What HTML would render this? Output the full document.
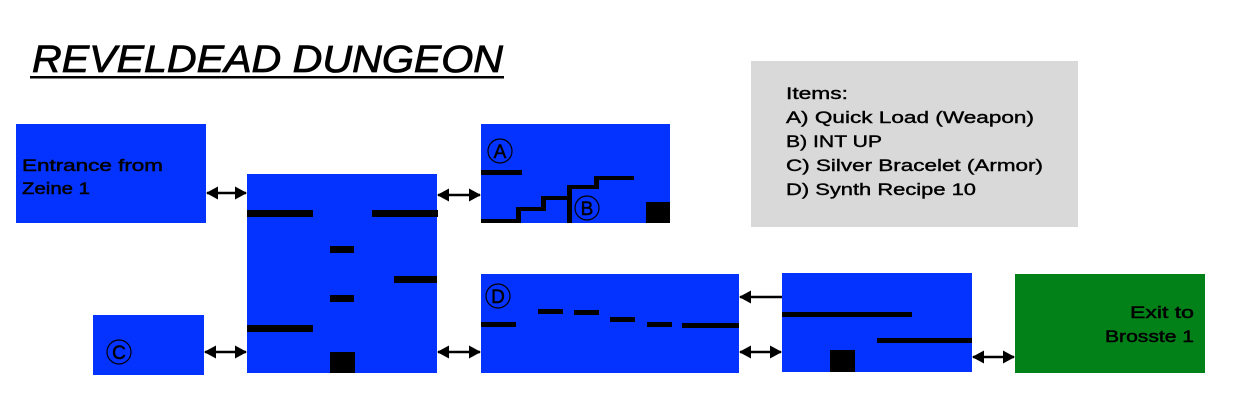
<!DOCTYPE html>
<html><head><meta charset="utf-8"><style>
html,body{margin:0;padding:0;background:#fff;}
svg{display:block;}
text{font-family:"Liberation Sans",sans-serif;}
</style></head><body>
<svg width="1241" height="419" viewBox="0 0 1241 419" xmlns="http://www.w3.org/2000/svg">
<defs>
<marker id="ah" markerWidth="12" markerHeight="13" refX="11" refY="6.5" orient="auto-start-reverse" markerUnits="userSpaceOnUse">
<path d="M0,0 L12,6.5 L0,13 z" fill="#000"/>
</marker>
</defs>
<!-- title -->
<text x="32" y="72" font-size="38" font-style="italic" stroke="#000" stroke-width="0.8" textLength="471" lengthAdjust="spacingAndGlyphs">REVELDEAD DUNGEON</text>
<rect x="30" y="76" width="474" height="2.5" fill="#000"/>

<!-- items box -->
<rect x="751" y="61" width="327" height="166" fill="#d9d9d9"/>
<g font-size="17" fill="#000" stroke="#000" stroke-width="0.4">
<text x="786" y="99" textLength="62" lengthAdjust="spacingAndGlyphs">Items:</text>
<text x="786" y="123" textLength="248" lengthAdjust="spacingAndGlyphs">A) Quick Load (Weapon)</text>
<text x="786" y="147" textLength="96" lengthAdjust="spacingAndGlyphs">B) INT UP</text>
<text x="786" y="171" textLength="257" lengthAdjust="spacingAndGlyphs">C) Silver Bracelet (Armor)</text>
<text x="786" y="195" textLength="190" lengthAdjust="spacingAndGlyphs">D) Synth Recipe 10</text>
</g>

<!-- rooms -->
<rect x="16" y="124" width="190" height="99" fill="#0433ff"/>
<g font-size="17" stroke="#000" stroke-width="0.5">
<text x="22" y="171" textLength="141" lengthAdjust="spacingAndGlyphs">Entrance from</text>
<text x="22" y="194" textLength="68" lengthAdjust="spacingAndGlyphs">Zeine 1</text>
</g>

<rect x="93" y="315" width="111" height="60" fill="#0433ff"/>
<circle cx="119" cy="352" r="12" fill="none" stroke="#000" stroke-width="1.2"/>
<text x="119" y="359" font-size="19" text-anchor="middle" stroke="#000" stroke-width="0.5">C</text>

<rect x="247" y="174" width="190" height="199" fill="#0433ff"/>
<g fill="#000">
<rect x="247" y="210" width="66" height="7"/>
<rect x="372" y="210" width="66" height="7"/>
<rect x="330" y="246" width="24" height="7"/>
<rect x="394" y="276" width="43" height="7"/>
<rect x="330" y="295" width="24" height="7"/>
<rect x="247" y="325" width="66" height="7"/>
<rect x="330" y="352" width="25" height="21"/>
</g>

<rect x="481" y="124" width="189" height="99" fill="#0433ff"/>
<g fill="#000">
<rect x="481" y="170" width="41" height="5"/>
<rect x="481" y="219" width="40" height="4"/>
<rect x="516" y="207" width="5" height="16"/>
<rect x="516" y="207" width="30" height="4"/>
<rect x="541" y="196" width="5" height="15"/>
<rect x="541" y="196" width="31" height="4"/>
<rect x="567" y="185" width="5" height="38"/>
<rect x="567" y="185" width="32" height="4"/>
<rect x="594" y="176" width="5" height="13"/>
<rect x="594" y="176" width="40" height="4"/>
<rect x="646" y="202" width="24" height="21"/>
</g>
<circle cx="500" cy="151" r="12" fill="none" stroke="#000" stroke-width="1.2"/>
<text x="500" y="158" font-size="19" text-anchor="middle" stroke="#000" stroke-width="0.5">A</text>
<circle cx="587" cy="208" r="12" fill="none" stroke="#000" stroke-width="1.2"/>
<text x="587" y="215" font-size="19" text-anchor="middle" stroke="#000" stroke-width="0.5">B</text>

<rect x="481" y="274" width="258" height="99" fill="#0433ff"/>
<circle cx="498" cy="296" r="12" fill="none" stroke="#000" stroke-width="1.2"/>
<text x="498" y="303" font-size="19" text-anchor="middle" stroke="#000" stroke-width="0.5">D</text>
<g fill="#000">
<rect x="481" y="322" width="35" height="5"/>
<rect x="538" y="309" width="25" height="5"/>
<rect x="574" y="310" width="25" height="5"/>
<rect x="610" y="317" width="25" height="5"/>
<rect x="647" y="322" width="25" height="5"/>
<rect x="682" y="323" width="57" height="5"/>
</g>

<rect x="782" y="273" width="190" height="99" fill="#0433ff"/>
<g fill="#000">
<rect x="782" y="312" width="130" height="5"/>
<rect x="877" y="338" width="95" height="5"/>
<rect x="830" y="350" width="25" height="22"/>
</g>

<rect x="1015" y="274" width="190" height="99" fill="#028119"/>
<g font-size="17" stroke="#000" stroke-width="0.5">
<text x="1194" y="318" text-anchor="end" textLength="64" lengthAdjust="spacingAndGlyphs">Exit to</text>
<text x="1194" y="342" text-anchor="end" textLength="89" lengthAdjust="spacingAndGlyphs">Brosste 1</text>
</g>

<!-- connectors -->
<g stroke="#000" stroke-width="2.5">
<line x1="207" y1="193" x2="246" y2="193" marker-start="url(#ah)" marker-end="url(#ah)"/>
<line x1="438" y1="195" x2="480" y2="195" marker-start="url(#ah)" marker-end="url(#ah)"/>
<line x1="205" y1="352" x2="246" y2="352" marker-start="url(#ah)" marker-end="url(#ah)"/>
<line x1="438" y1="352" x2="480" y2="352" marker-start="url(#ah)" marker-end="url(#ah)"/>
<line x1="782" y1="297" x2="740" y2="297" marker-end="url(#ah)"/>
<line x1="740" y1="352" x2="781" y2="352" marker-start="url(#ah)" marker-end="url(#ah)"/>
<line x1="973" y1="357" x2="1014" y2="357" marker-start="url(#ah)" marker-end="url(#ah)"/>
</g>
</svg>
</body></html>
